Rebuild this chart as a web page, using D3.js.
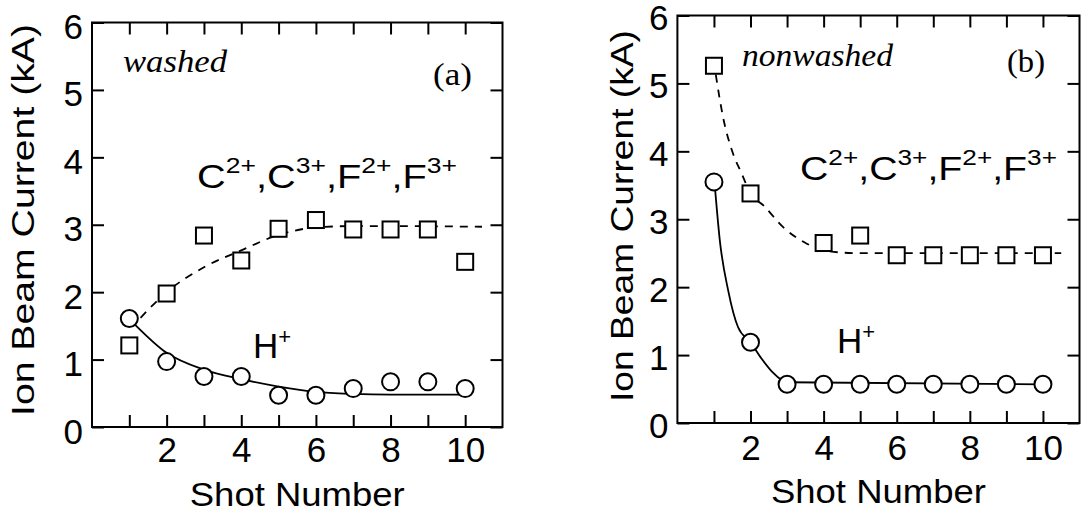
<!DOCTYPE html>
<html>
<head>
<meta charset="utf-8">
<script src="https://cdn.jsdelivr.net/npm/d3@7"></script>
<style>
  html, body { margin: 0; padding: 0; background: #fff; }
  svg { display: block; }
</style>
</head>
<body>
<div id="chart"></div>
<script>
// Shot numbers and tick values
const shots = [1, 2, 3, 4, 5, 6, 7, 8, 9, 10];
const xTickLabels = [2, 4, 6, 8, 10];
const yTicks = [0, 1, 2, 3, 4, 5, 6];

// (a) washed
const washedCShots = [1, 2, 3, 4, 5, 6, 7, 8, 9, 10];
const washedC = [1.21, 1.98, 2.84, 2.47, 2.94, 3.07, 2.93, 2.93, 2.93, 2.45];
const washedH = [1.61, 0.97, 0.75, 0.75, 0.47, 0.47, 0.57, 0.67, 0.67, 0.57];
const washedCFitX = [1.3, 2, 3, 4, 5, 6, 7, 8, 10.45];
const washedCFitY = [1.62, 2.0, 2.37, 2.62, 2.85, 2.96, 2.98, 2.98, 2.97];
const washedHFitX = [1.15, 2, 3, 4, 5, 6, 7, 8, 10];
const washedHFitY = [1.52, 1.1, 0.85, 0.71, 0.6, 0.52, 0.49, 0.48, 0.48];

// (b) nonwashed -- no square at shot 3
const nonwashedCShots = [1, 2, 4, 5, 6, 7, 8, 9, 10];
const nonwashedC = [5.26, 3.38, 2.65, 2.76, 2.47, 2.47, 2.47, 2.47, 2.47];
const nonwashedH = [3.55, 1.19, 0.57, 0.57, 0.57, 0.57, 0.57, 0.57, 0.57, 0.57];
const nonwashedCFitX = [1.05, 1.25, 1.5, 1.76, 2, 2.36, 2.9, 3.54, 4.1, 5, 10.5];
const nonwashedCFitY = [5.13, 4.5, 4.0, 3.67, 3.38, 3.2, 2.88, 2.64, 2.53, 2.5, 2.5];
const nonwashedHFitX = [1.03, 1.16, 1.39, 1.66, 2, 2.3, 2.6, 3, 10];
const nonwashedHFitY = [3.45, 2.69, 1.95, 1.41, 1.19, 0.95, 0.75, 0.6, 0.57];

const width = 1084;
const height = 515;
const sans = "'Liberation Sans', Arial, Helvetica, sans-serif";
const serif = "'Liberation Serif', 'Times New Roman', serif";

const svg = d3.select("#chart")
    .append("svg")
    .attr("width", width)
    .attr("height", height);

const panels = [
    {
        left: 92, right: 502.5, top: 22.5, bottom: 427,
        cShots: washedCShots, c: washedC, h: washedH,
        cFitX: washedCFitX, cFitY: washedCFitY,
        hFitX: washedHFitX, hFitY: washedHFitY,
        yLabelDy: 16, xLabelPad: 10,
        title: { x: 34, y: 220, len: 392 },
        shotY: 506,
        tag: { text: "washed", x: 123, y: 72, len: 104 },
        letter: { text: "(a)", x: 433, y: 85, len: 39 },
        ions: { x: 197, y: 188, len: 260 },
        hPlus: { x: 253, y: 358 }
    },
    {
        left: 677.4, right: 1079.5, top: 15.5, bottom: 423,
        cShots: nonwashedCShots, c: nonwashedC, h: nonwashedH,
        cFitX: nonwashedCFitX, cFitY: nonwashedCFitY,
        hFitX: nonwashedHFitX, hFitY: nonwashedHFitY,
        yLabelDy: 14, xLabelPad: 12,
        title: { x: 633, y: 216, len: 372 },
        shotY: 503,
        tag: { text: "nonwashed", x: 742, y: 66, len: 151 },
        letter: { text: "(b)", x: 1007, y: 72, len: 38 },
        ions: { x: 800, y: 180, len: 257 },
        hPlus: { x: 837, y: 353 }
    }
];

panels.forEach(function (p) {
    const x = d3.scaleLinear().domain([0, 11]).range([p.left, p.right]);
    const y = d3.scaleLinear().domain([0, 6]).range([p.bottom, p.top]);
    const g = svg.append("g");

    // frame
    g.append("rect")
        .attr("x", p.left).attr("y", p.top)
        .attr("width", p.right - p.left).attr("height", p.bottom - p.top)
        .attr("fill", "none").attr("stroke", "#000").attr("stroke-width", 2);

    // axes, all ticks point inward
    const bottomAxis = g.append("g")
        .attr("transform", `translate(0,${p.bottom})`)
        .call(d3.axisBottom(x).tickValues(shots).tickSize(-12).tickSizeOuter(0)
            .tickPadding(p.xLabelPad)
            .tickFormat(d => xTickLabels.includes(d) ? d : ""));

    const topAxis = g.append("g")
        .attr("transform", `translate(0,${p.top})`)
        .call(d3.axisTop(x).tickValues(shots).tickSize(-12).tickSizeOuter(0).tickFormat(""));

    const leftAxis = g.append("g")
        .attr("transform", `translate(${p.left},0)`)
        .call(d3.axisLeft(y).tickValues(yTicks).tickSize(-12).tickSizeOuter(0)
            .tickPadding(9).tickFormat(d3.format("d")));

    const rightAxis = g.append("g")
        .attr("transform", `translate(${p.right},0)`)
        .call(d3.axisRight(y).tickValues(yTicks).tickSize(-12).tickSizeOuter(0).tickFormat(""));

    [bottomAxis, topAxis, leftAxis, rightAxis].forEach(function (a) {
        a.select(".domain").remove();
        a.selectAll(".tick line").attr("stroke", "#000").attr("stroke-width", 2);
        a.selectAll("text")
            .attr("fill", "#000")
            .style("font-family", sans)
            .style("font-size", "35px");
    });
    leftAxis.selectAll("text").attr("dy", null).attr("y", p.yLabelDy);

    // fitted curves
    const line = d3.line()
        .x(d => x(d[0]))
        .y(d => y(d[1]))
        .curve(d3.curveMonotoneX);

    g.append("path")
        .attr("d", line(d3.zip(p.cFitX, p.cFitY)))
        .attr("fill", "none").attr("stroke", "#000")
        .attr("stroke-width", 1.8).attr("stroke-dasharray", "8,7");

    g.append("path")
        .attr("d", line(d3.zip(p.hFitX, p.hFitY)))
        .attr("fill", "none").attr("stroke", "#000")
        .attr("stroke-width", 1.8);

    // markers
    g.selectAll("rect.cion")
        .data(d3.zip(p.cShots, p.c))
        .enter().append("rect")
        .attr("class", "cion")
        .attr("x", d => x(d[0]) - 8).attr("y", d => y(d[1]) - 8)
        .attr("width", 16).attr("height", 16)
        .attr("fill", "#fff").attr("stroke", "#000").attr("stroke-width", 2);

    g.selectAll("circle.hion")
        .data(d3.zip(shots, p.h))
        .enter().append("circle")
        .attr("class", "hion")
        .attr("cx", d => x(d[0])).attr("cy", d => y(d[1]))
        .attr("r", 8.5)
        .attr("fill", "#fff").attr("stroke", "#000").attr("stroke-width", 2);

    // axis titles
    g.append("text")
        .attr("transform", `translate(${p.title.x},${p.title.y}) rotate(-90)`)
        .attr("text-anchor", "middle")
        .attr("textLength", p.title.len).attr("lengthAdjust", "spacingAndGlyphs")
        .style("font-family", sans).style("font-size", "32px")
        .text("Ion Beam Current (kA)");

    g.append("text")
        .attr("x", (p.left + p.right) / 2).attr("y", p.shotY)
        .attr("text-anchor", "middle")
        .attr("textLength", 215).attr("lengthAdjust", "spacingAndGlyphs")
        .style("font-family", sans).style("font-size", "34px")
        .text("Shot Number");

    // annotations
    g.append("text")
        .attr("x", p.tag.x).attr("y", p.tag.y)
        .attr("textLength", p.tag.len).attr("lengthAdjust", "spacingAndGlyphs")
        .style("font-family", serif).style("font-style", "italic").style("font-size", "32px")
        .text(p.tag.text);

    g.append("text")
        .attr("x", p.letter.x).attr("y", p.letter.y)
        .attr("textLength", p.letter.len).attr("lengthAdjust", "spacingAndGlyphs")
        .style("font-family", serif).style("font-size", "32px")
        .text(p.letter.text);

    const ions = g.append("text")
        .attr("x", p.ions.x).attr("y", p.ions.y)
        .attr("textLength", p.ions.len).attr("lengthAdjust", "spacingAndGlyphs")
        .style("font-family", sans).style("font-size", "33px");
    [["C", "2+"], [",C", "3+"], [",F", "2+"], [",F", "3+"]].forEach(function (part) {
        ions.append("tspan").attr("y", p.ions.y).text(part[0]);
        ions.append("tspan").attr("y", p.ions.y - 15).style("font-size", "22px").text(part[1]);
    });

    const hp = g.append("text")
        .attr("x", p.hPlus.x).attr("y", p.hPlus.y)
        .style("font-family", sans).style("font-size", "35px");
    hp.append("tspan").text("H");
    hp.append("tspan").attr("y", p.hPlus.y - 14).style("font-size", "22px").text("+");
});
</script>
</body>
</html>
